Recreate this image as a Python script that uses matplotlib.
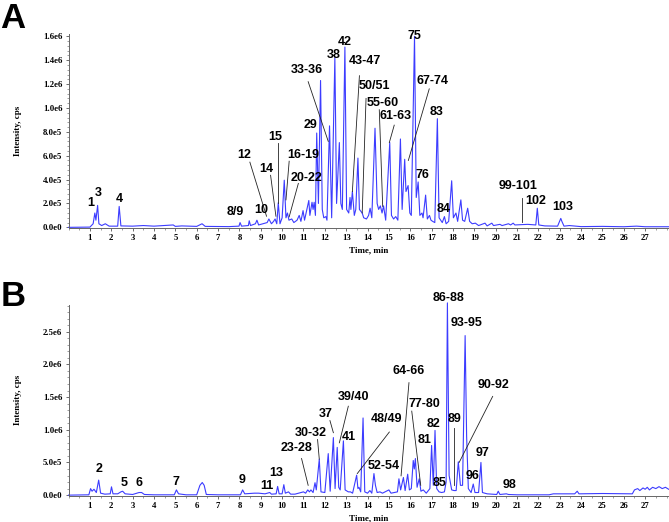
import numpy as np
import matplotlib
matplotlib.use("Agg")
import matplotlib.pyplot as plt
from matplotlib.ticker import MultipleLocator, FuncFormatter

# chromatogram A: retention time (min) / intensity (1e5 cps), apexes and valleys
time_a = [0.0, 1.0, 1.15, 1.23, 1.28, 1.36, 1.42, 1.55, 1.72, 1.9, 2.3, 2.37, 2.45,
          3.0, 3.5, 4.0, 4.9, 5.0, 5.3, 6.0, 6.25, 6.4, 7.5, 7.98, 8.03, 8.1,
          8.42, 8.46, 8.52, 8.75, 8.82, 8.9, 9.3, 9.38, 9.5, 9.6, 9.67, 9.75,
          9.82, 9.9, 10.0, 10.1, 10.18, 10.25, 10.32, 10.45, 10.55, 10.7, 10.8,
          10.88, 10.98, 11.05, 11.25, 11.3, 11.4, 11.45, 11.5, 11.56, 11.62, 11.7,
          11.8, 11.88, 11.95, 12.05, 12.1, 12.22, 12.32, 12.47, 12.55, 12.68, 12.75,
          12.82, 12.94, 13.02, 13.12, 13.18, 13.22, 13.29, 13.38, 13.45, 13.55,
          13.62, 13.75, 13.82, 13.95, 14.05, 14.12, 14.2, 14.35, 14.45, 14.52,
          14.6, 14.68, 14.75, 14.85, 15.04, 15.12, 15.22, 15.32, 15.42, 15.54,
          15.62, 15.74, 15.8, 15.9, 15.98, 16.05, 16.2, 16.28, 16.37, 16.45, 16.55,
          16.6, 16.72, 16.8, 16.9, 16.97, 17.05, 17.15, 17.27, 17.35, 17.5, 17.6,
          17.68, 17.8, 17.94, 18.02, 18.14, 18.22, 18.37, 18.45, 18.55, 18.69,
          18.78, 18.9, 19.05, 19.2, 19.5, 19.6, 19.82, 19.9, 20.2, 20.3, 20.6,
          20.7, 20.82, 20.9, 21.5, 21.88, 21.95, 22.02, 22.3, 22.9, 23.05, 23.1,
          23.2, 23.45, 24.0, 25.0, 26.0, 26.6, 27.0, 28.1]
int_a = [0.0, 0.02, 0.3, 1.2, 0.6, 1.84, 0.3, 0.15, 0.3, 0.1, 0.1, 1.75, 0.12,
         0.1, 0.15, 0.1, 0.2, 0.08, 0.12, 0.08, 0.3, 0.08, 0.06, 0.1, 0.4, 0.1,
         0.15, 0.55, 0.15, 0.3, 0.6, 0.2, 0.4, 0.7, 0.3, 0.5, 0.7, 0.3,
         2.06, 0.3, 0.8, 3.95, 0.8, 1.2, 0.6, 0.7, 0.4, 0.6, 1.0,
         0.5, 1.4, 0.6, 2.25, 1.0, 2.1, 1.5, 2.1, 1.0, 7.9, 2.0,
         12.3, 1.5, 0.8, 0.9, 0.6, 8.5, 0.8, 14.2, 2.0, 7.1, 2.0,
         1.5, 15.1, 1.5, 1.2, 2.5, 1.5, 3.0, 1.0, 1.5, 5.8,
         1.5, 1.2, 0.8, 0.7, 1.0, 1.6, 0.8, 8.3, 2.0, 1.5,
         1.8, 1.2, 1.8, 0.6, 7.1, 1.0, 0.7, 0.9, 0.6, 7.4,
         1.5, 5.7, 3.0, 3.5, 1.2, 1.0, 16.0, 2.5, 3.8, 1.0, 1.2,
         0.8, 2.7, 0.7, 1.0, 0.6, 0.5, 0.4, 9.1, 0.8, 0.4, 0.9,
         0.3, 0.5, 3.9, 0.8, 1.2, 0.5, 2.3, 0.6, 0.5, 1.6,
         0.5, 0.3, 0.35, 0.15, 0.35, 0.12, 0.35, 0.15, 0.25, 0.15, 0.3,
         0.2, 0.35, 0.2, 0.25, 0.2, 1.6, 0.2, 0.12, 0.1, 0.75, 0.5,
         0.1, 0.15, 0.06, 0.08, 0.05, 0.1, 0.05, 0.05]

# chromatogram B
time_b = [0.0, 0.95, 1.03, 1.1, 1.19, 1.3, 1.41, 1.5, 1.7, 1.95, 2.01, 2.08, 2.3,
          2.45, 2.53, 2.65, 3.0, 3.3, 3.42, 3.55, 4.0, 4.95, 5.05, 5.15, 5.5,
          6.0, 6.15, 6.26, 6.35, 6.45, 7.0, 8.05, 8.15, 8.25, 8.7, 8.9, 9.2,
          9.42, 9.5, 9.72, 9.79, 9.86, 10.0, 10.08, 10.15, 10.3, 10.4, 10.6,
          11.0, 11.1, 11.2, 11.28, 11.35, 11.45, 11.54, 11.6, 11.74, 11.82, 12.0,
          12.16, 12.25, 12.4, 12.48, 12.58, 12.65, 12.72, 12.87, 12.95, 13.1,
          13.2, 13.3, 13.49, 13.55, 13.6, 13.68, 13.79, 13.87, 14.0, 14.11,
          14.2, 14.3, 14.37, 14.45, 14.58, 14.7, 15.0, 15.1, 15.4, 15.47, 15.55,
          15.68, 15.76, 15.88, 15.96, 16.05, 16.14, 16.19, 16.24, 16.32, 16.42,
          16.5, 16.61, 16.75, 16.92, 17.0, 17.08, 17.16, 17.24, 17.35, 17.47,
          17.6, 17.68, 17.74, 17.82, 17.94, 18.05, 18.15, 18.25, 18.35, 18.45,
          18.57, 18.64, 18.72, 18.85, 18.95, 19.03, 19.2, 19.31, 19.38, 19.6,
          20.05, 20.12, 20.2, 20.5, 20.6, 21.0, 22.5, 22.7, 23.7, 23.82, 23.9,
          25.0, 26.4, 26.5, 26.65, 26.75, 26.9, 27.0, 27.1, 27.2, 27.35, 27.5,
          27.65, 27.8, 27.95, 28.1]
int_b = [0.0, 0.05, 1.0, 0.6, 0.9, 0.4, 2.3, 0.3, 0.15, 0.2, 1.27, 0.2, 0.2,
         0.5, 0.6, 0.2, 0.1, 0.4, 0.4, 0.1, 0.05, 0.05, 0.8, 0.2, 0.05,
         0.05, 1.5, 1.93, 1.5, 0.1, 0.05, 0.05, 0.8, 0.2, 0.3, 0.3, 0.2,
         0.4, 0.15, 0.2, 1.33, 0.2, 0.2, 1.6, 0.3, 0.5, 0.15, 0.15,
         0.5, 0.3, 0.8, 0.5, 0.8, 0.4, 1.9, 0.8, 5.5, 0.5, 0.4,
         6.35, 0.6, 8.8, 1.0, 7.3, 1.2, 0.8, 8.3, 0.8, 0.5,
         0.5, 0.3, 3.05, 1.0, 1.2, 0.5, 11.8, 0.5, 0.3, 0.7,
         0.3, 3.3, 1.5, 0.4, 0.5, 0.3, 0.8, 0.3, 0.5, 2.5, 0.8,
         2.7, 0.7, 3.2, 0.8, 1.0, 5.3, 4.0, 5.6, 1.2, 2.5,
         0.6, 0.8, 0.3, 1.0, 7.6, 1.5, 9.9, 1.0, 0.5, 0.4,
         0.5, 2.0, 29.4, 3.0, 0.8, 0.7, 0.7, 5.1, 1.5, 1.5,
         24.4, 9.0, 1.0, 0.4, 1.7, 0.4, 0.4, 5.0, 0.4, 0.2,
         0.1, 0.6, 0.1, 0.2, 0.1, 0.05, 0.05, 0.2, 0.2, 0.6, 0.2,
         0.25, 0.2, 0.8, 1.0, 0.7, 1.1, 0.9, 1.2, 0.8, 1.2, 1.0,
         1.3, 1.0, 1.2, 0.9]

# peak labels (text, time, intensity 1e5 at label centre)
labels_a = ["1", "3", "4", "8/9", "10", "12", "14", "15", "16-19", "20-22", "29",
            "33-36", "38", "42", "43-47", "50/51", "55-60", "61-63", "67-74", "75",
            "76", "83", "84", "99-101", "102", "103"]
lab_a_t = [1.05, 1.4, 2.36, 7.82, 9.04, 8.23, 9.27, 9.68, 10.99, 11.12, 11.35,
           11.15, 12.4, 12.94, 13.88, 14.32, 14.71, 15.32, 17.05, 16.18,
           16.57, 17.21, 17.58, 21.06, 21.87, 23.14]
lab_a_y = [2.0, 2.9, 2.4, 1.3, 1.43, 6.1, 4.85, 7.6, 6.1, 4.17, 8.6,
           13.2, 14.4, 15.5, 13.9, 11.8, 10.45, 9.3, 12.26, 16.0,
           4.36, 9.7, 1.54, 3.48, 2.2, 1.7]
# leader lines: t0, y0, t1, y1
leaders_a = [(8.49, 5.46, 9.27, 0.93), (9.46, 4.36, 9.71, 0.93), (9.82, 7.1, 9.82, 2.06),
             (10.33, 5.54, 10.18, 2.3), (10.76, 3.68, 10.33, 0.88), (11.22, 12.2, 12.16, 7.2),
             (13.62, 12.7, 13.29, 3.0), (13.93, 10.8, 13.75, 1.2), (14.55, 9.85, 14.71, 1.75),
             (15.25, 8.56, 15.02, 7.1), (16.89, 11.6, 15.91, 5.6), (21.22, 2.44, 21.22, 0.41)]

labels_b = ["2", "5", "6", "7", "9", "11", "13", "23-28", "30-32", "37", "39/40", "41",
            "48/49", "52-54", "64-66", "77-80", "81", "82", "85", "86-88", "89",
            "93-95", "90-92", "96", "97", "98"]
lab_b_t = [1.41, 2.61, 3.31, 5.03, 8.13, 9.3, 9.71, 10.68, 11.35, 12.05, 13.33, 13.1,
           14.9, 14.77, 15.94, 16.66, 16.69, 17.08, 17.39, 17.78, 18.09,
           18.64, 19.89, 18.92, 19.39, 20.64]
lab_b_y = [3.96, 1.83, 1.83, 2.03, 2.3, 1.33, 3.45, 7.27, 9.55, 12.45, 15.0, 8.9,
           11.7, 4.47, 19.05, 14.0, 8.5, 10.9, 1.93, 30.1, 11.6,
           26.3, 16.8, 2.95, 6.5, 1.5]
leaders_b = [(10.91, 5.6, 11.22, 1.5), (11.66, 8.5, 11.74, 5.5), (12.24, 11.4, 12.4, 9.55),
             (13.1, 13.6, 12.68, 8.0), (15.02, 9.65, 13.52, 3.3), (15.94, 17.2, 15.57, 2.95),
             (16.07, 12.85, 16.49, 1.5), (18.05, 10.3, 18.05, 1.5), (19.86, 15.1, 18.29, 5.0)]

line_col = "#3c3cff"
serif = "Liberation Serif"
sans = "Liberation Sans"

fig = plt.figure(figsize=(6.69, 5.22), dpi=100)
ax_a = fig.add_axes([0.1025, 0.563, 0.896, 0.372])
ax_b = fig.add_axes([0.1025, 0.050, 0.896, 0.366])


def fmt_sci(v, pos):
    s = "%.1e" % v
    mant, ex = s.split("e")
    return mant + "e" + str(int(ex))


def style_axis(ax, ytop, ystep):
    ax.set_xlim(0, 28.07)
    ax.set_ylim(-0.004 * ytop, ytop)
    for sp in ["top", "right"]:
        ax.spines[sp].set_visible(False)
    ax.spines["left"].set_color("#666666")
    ax.spines["bottom"].set_color("#666666")
    ax.spines["left"].set_linewidth(0.7)
    ax.spines["bottom"].set_linewidth(0.7)
    ax.set_xticks(np.arange(1, 28))
    ax.xaxis.set_minor_locator(MultipleLocator(0.5))
    ax.yaxis.set_major_locator(MultipleLocator(ystep))
    ax.yaxis.set_minor_locator(MultipleLocator(ystep / 5))
    ax.yaxis.set_major_formatter(FuncFormatter(fmt_sci))
    ax.tick_params(which="major", length=2.5, width=0.6, color="#555555", pad=2,
                   labelsize=6.3)
    ax.tick_params(which="minor", length=1.3, width=0.5, color="#777777")
    for lab in ax.get_xticklabels() + ax.get_yticklabels():
        lab.set_fontfamily(serif)
        lab.set_fontweight("bold")
    ax.set_ylabel("Intensity, cps", fontfamily=serif, fontweight="bold", fontsize=6.5,
                  labelpad=15)
    ax.set_xlabel("Time, min", fontfamily=serif, fontweight="bold", fontsize=6.5,
                  labelpad=3)


def draw(ax, t, inten, labels, lt, ly, leaders):
    ax.plot(t, np.array(inten) * 1e5, color=line_col, lw=0.8, clip_on=False)
    for s, x, y in zip(labels, lt, ly):
        ax.text(x, y * 1e5, s, ha="center", va="center", fontsize=9,
                fontweight="bold", fontfamily=sans, clip_on=False)
    for x0, y0, x1, y1 in leaders:
        ax.plot([x0, x1], [y0 * 1e5, y1 * 1e5], color="#222222", lw=0.6)


draw(ax_a, time_a, int_a, labels_a, lab_a_t, lab_a_y, leaders_a)
draw(ax_b, time_b, int_b, labels_b, lab_b_t, lab_b_y, leaders_b)
style_axis(ax_a, 1.62e6, 2e5)
style_axis(ax_b, 2.91e6, 5e5)

fig.text(0.019, 1 - 27.5 / 522, "A", fontsize=25, fontweight="bold", fontfamily=sans,
         ha="center", va="baseline")
fig.text(0.019, 1 - 306.5 / 522, "B", fontsize=25, fontweight="bold", fontfamily=sans,
         ha="center", va="baseline")

fig.savefig("out.png", dpi=100)
